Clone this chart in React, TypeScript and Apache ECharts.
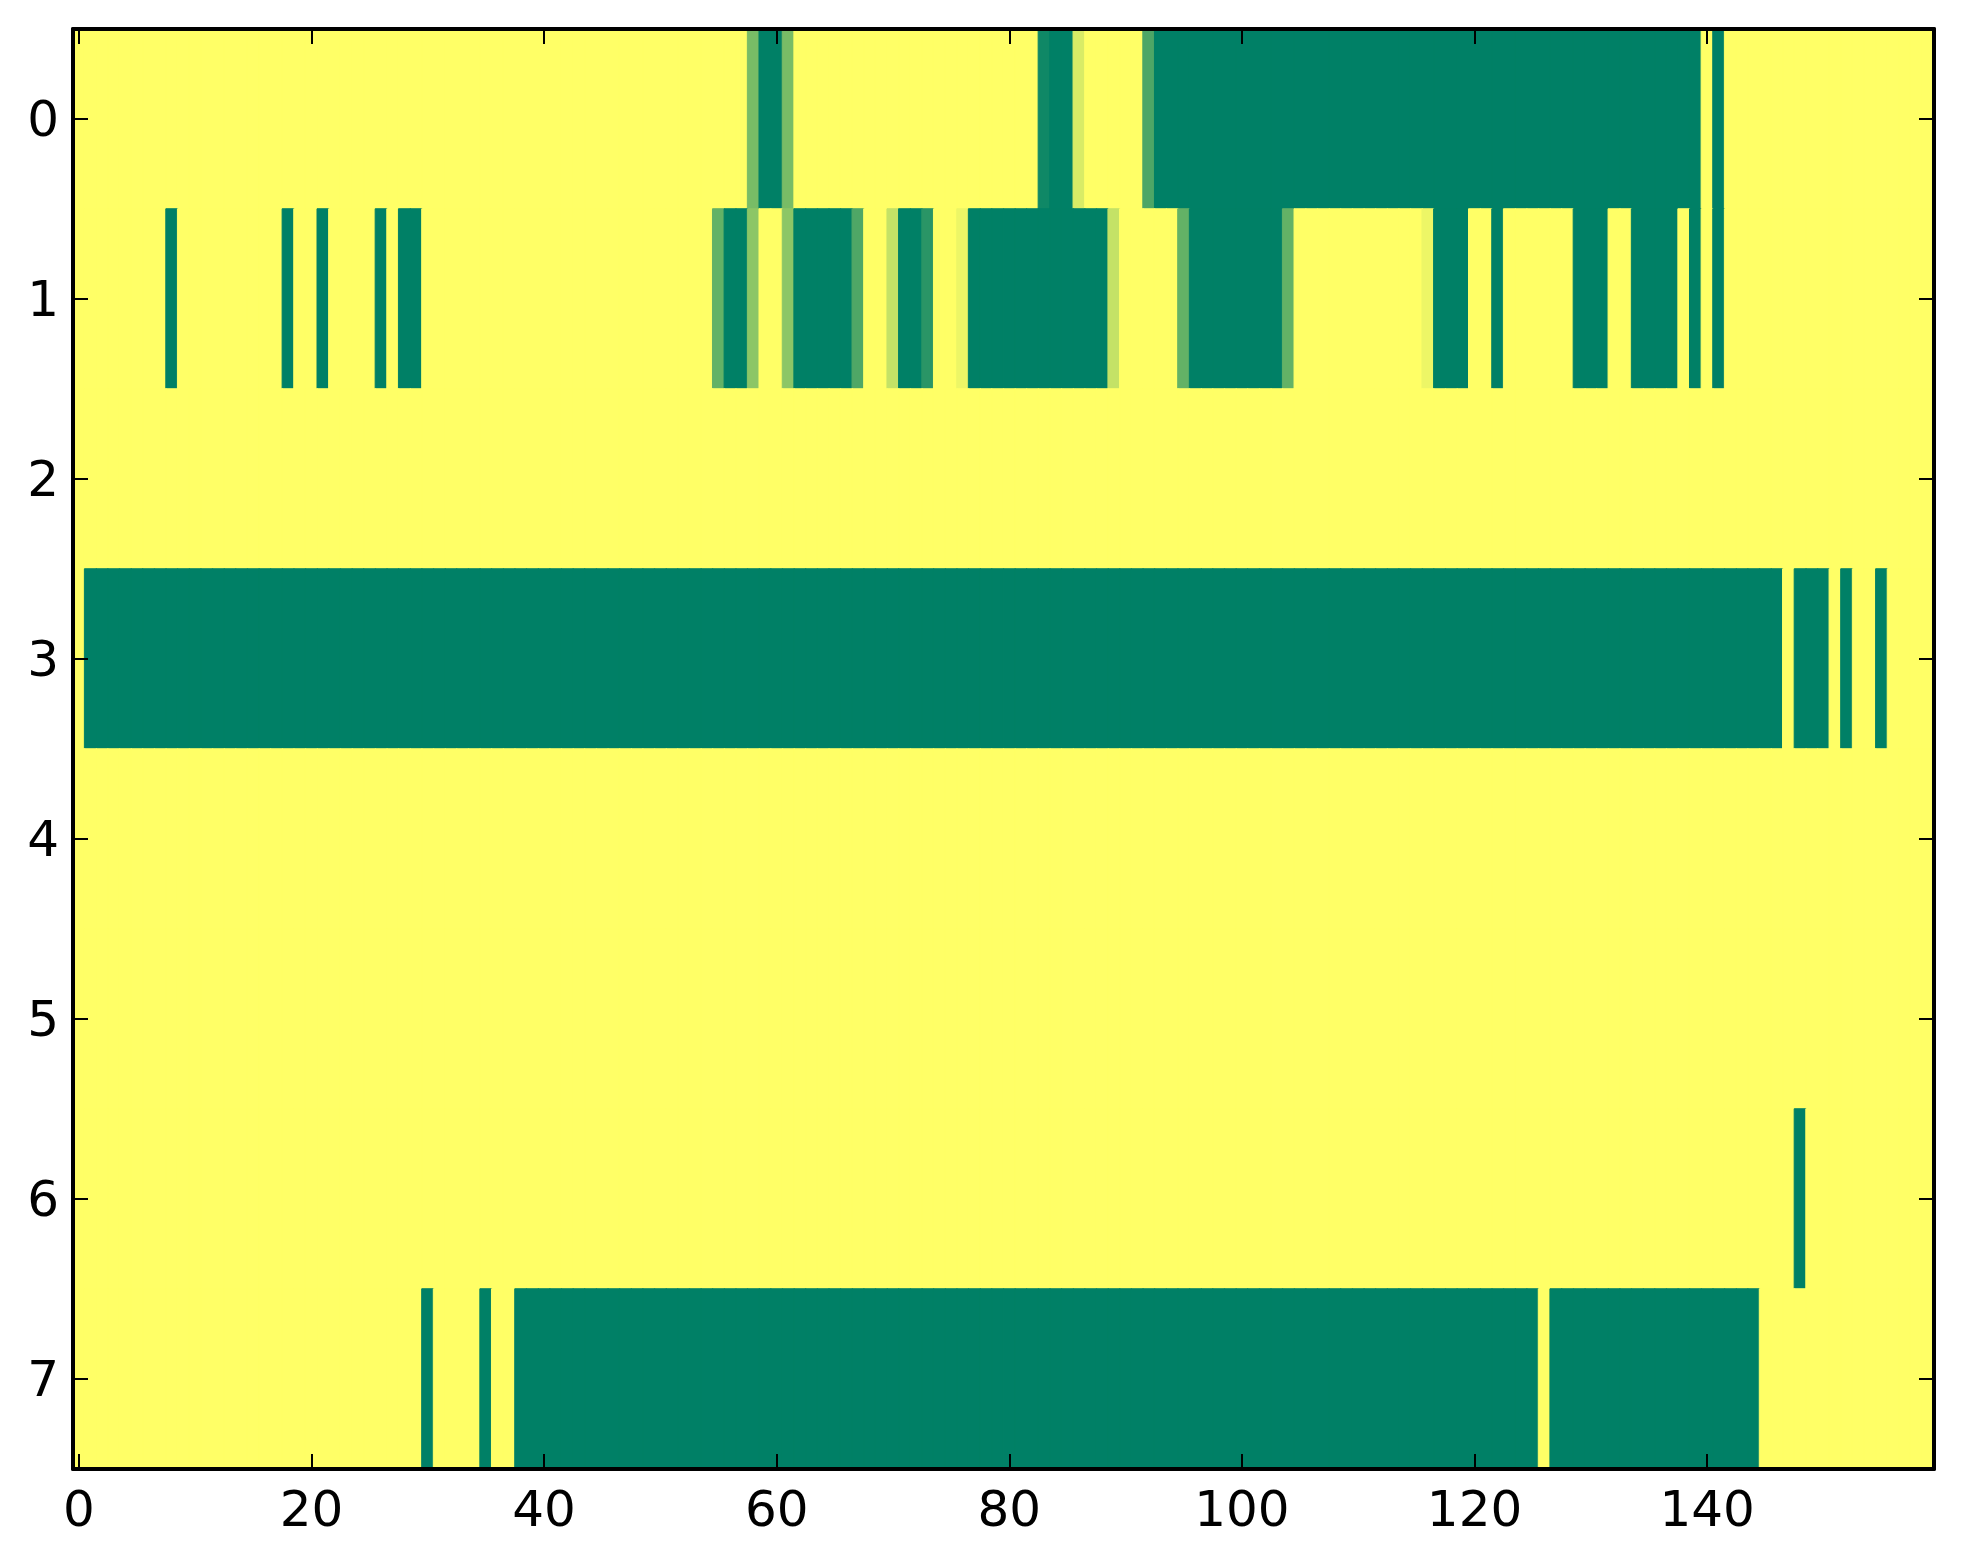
import React, { useEffect, useRef } from "react";
import * as echarts from "echarts";

// Heatmap (matplotlib "summer" colormap): 8 rows x 160 columns, values 0..1, default 1 (yellow)
const columnCount = 160;
const rowLabels = ["0", "1", "2", "3", "4", "5", "6", "7"];
const xTickStep = 20;

// Runs of non-default cells: [startCol, endCol, value]
const row0Runs: [number, number, number][] = [
  [58, 58, 0.47], [59, 60, 0], [61, 61, 0.47], [83, 83, 0.06], [84, 85, 0],
  [86, 86, 0.85], [92, 92, 0.3], [93, 139, 0], [141, 141, 0],
];
const row1Runs: [number, number, number][] = [
  [8, 8, 0], [18, 18, 0], [21, 21, 0], [26, 26, 0], [28, 29, 0],
  [55, 55, 0.39], [56, 57, 0], [58, 58, 0.55], [61, 61, 0.55], [62, 66, 0],
  [67, 67, 0.31], [70, 70, 0.77], [71, 72, 0], [73, 73, 0.165], [76, 76, 0.93],
  [77, 88, 0], [89, 89, 0.77], [95, 95, 0.39], [96, 103, 0], [104, 104, 0.39],
  [116, 116, 0.93], [117, 119, 0], [122, 122, 0], [129, 131, 0], [134, 137, 0],
  [139, 139, 0], [141, 141, 0],
];
const row2Runs: [number, number, number][] = [];
const row3Runs: [number, number, number][] = [
  [1, 146, 0], [148, 150, 0], [152, 152, 0], [155, 155, 0],
];
const row4Runs: [number, number, number][] = [];
const row5Runs: [number, number, number][] = [];
const row6Runs: [number, number, number][] = [[148, 148, 0]];
const row7Runs: [number, number, number][] = [
  [30, 30, 0], [35, 35, 0], [38, 125, 0], [127, 144, 0],
];
const allRuns = [row0Runs, row1Runs, row2Runs, row3Runs, row4Runs, row5Runs, row6Runs, row7Runs];
const defaultValue = 1;

const xCategories = Array.from({ length: columnCount }, (_, i) => String(i));

// matplotlib "summer": (v, 0.5 + 0.5 v, 0.4)
function summer(v: number) {
  const r = Math.round(255 * v);
  const g = Math.round(255 * (0.5 + 0.5 * v));
  const b = Math.round(255 * 0.4);
  return `rgb(${r},${g},${b})`;
}

function buildData() {
  const out: any[] = [];
  allRuns.forEach((runs, r) => {
    const row = new Array(columnCount).fill(defaultValue);
    runs.forEach(([s, e, v]) => {
      for (let c = s; c <= e; c++) row[c] = v;
    });
    row.forEach((v, c) =>
      out.push({ value: [c, r, v], itemStyle: { borderColor: summer(v), borderWidth: 1 } })
    );
  });
  return out;
}

export default function App() {
  const ref = useRef<HTMLDivElement>(null);
  useEffect(() => {
    document.body.style.margin = "0";
    const chart = echarts.init(ref.current!, null, { renderer: "svg" });
    const font = { fontFamily: "DejaVu Sans", fontSize: 50, color: "#000" };
    const lineStyle = { color: "#000", width: 4 };
    const tickStyle = { color: "#000", width: 2 };
    const xInterval = (i: number) => i % xTickStep === 0;
    const baseX = {
      type: "category" as const,
      data: xCategories,
      boundaryGap: true,
      z: 10,
      axisLine: { show: true, onZero: false, lineStyle },
      splitLine: { show: false },
      axisTick: { show: true, inside: true, length: 15, alignWithLabel: true, interval: xInterval, lineStyle: tickStyle },
    };
    const baseY = {
      type: "category" as const,
      data: rowLabels,
      inverse: true,
      boundaryGap: true,
      z: 10,
      axisLine: { show: true, onZero: false, lineStyle },
      splitLine: { show: false },
      axisTick: { show: true, inside: true, length: 15, alignWithLabel: true, lineStyle: tickStyle },
    };
    chart.setOption({
      animation: false,
      backgroundColor: "#ffffff",
      grid: { left: 73, top: 29, right: 29, bottom: 95, containLabel: false },
      xAxis: [
        { ...baseX, position: "bottom", axisLabel: { ...font, interval: xInterval, margin: 15 } },
        { ...baseX, position: "top", axisLabel: { show: false } },
      ],
      yAxis: [
        { ...baseY, position: "left", axisLabel: { ...font, margin: 14 } },
        { ...baseY, position: "right", axisLabel: { show: false } },
      ],
      visualMap: {
        show: false,
        type: "continuous",
        min: 0,
        max: 1,
        dimension: 2,
        seriesIndex: 0,
        inRange: { color: ["#008066", "#ffff66"] },
      },
      series: [
        {
          type: "heatmap",
          xAxisIndex: 0,
          yAxisIndex: 0,
          z: 1,
          data: buildData(),
          emphasis: { disabled: true },
          silent: true,
        },
      ],
    });
    return () => chart.dispose();
  }, []);
  return <div ref={ref} style={{ width: 1963, height: 1564 }} />;
}
